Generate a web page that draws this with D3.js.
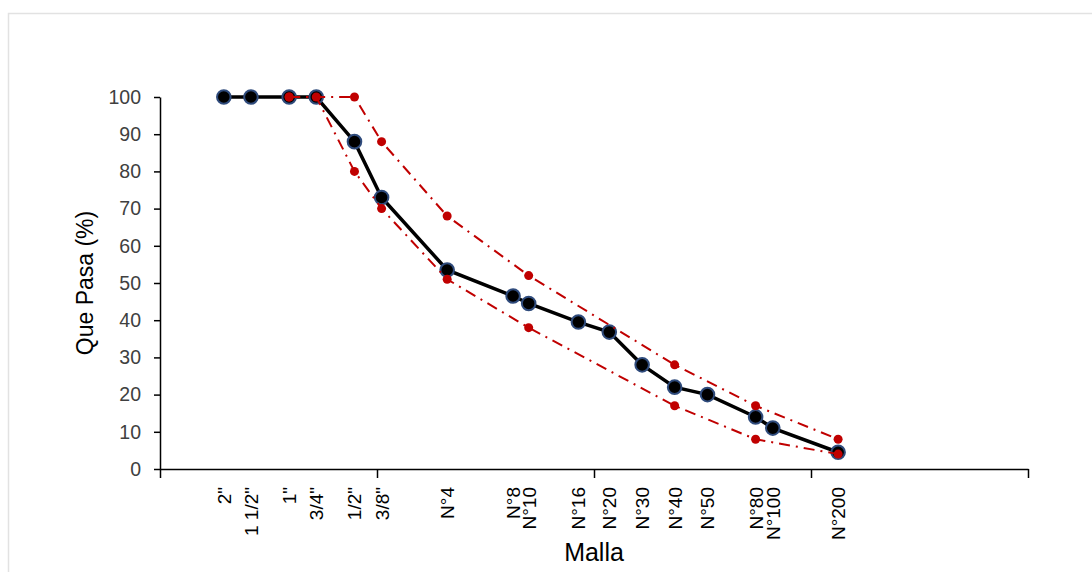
<!DOCTYPE html>
<html>
<head>
<meta charset="utf-8">
<script src="https://cdn.jsdelivr.net/npm/d3@7"></script>
<style>
  body { margin: 0; background: #fff; }
  text { font-family: "Liberation Sans", Arial, sans-serif; }
</style>
</head>
<body>
<div id="chart-area"></div>
<script>
// sieve names and openings (mm)
const sieves = ["2\"", "1 1/2\"", "1\"", "3/4\"", "1/2\"", "3/8\"", "N°4", "N°8", "N°10", "N°16", "N°20", "N°30", "N°40", "N°50", "N°80", "N°100", "N°200"];
const openings = [50.8, 38.1, 25.4, 19.05, 12.7, 9.525, 4.75, 2.36, 2.0, 1.18, 0.85, 0.6, 0.425, 0.3, 0.18, 0.15, 0.075];
const passing = [100, 100, 100, 100, 88, 73, 53.5, 46.5, 44.5, 39.5, 36.8, 28, 22, 20, 14, 11, 4.5];

// spec limits
const upperSieves = ["1\"", "1/2\"", "3/8\"", "N°4", "N°10", "N°40", "N°80", "N°200"];
const upperValues = [100, 100, 88, 68, 52, 28, 17, 8];
const lowerSieves = ["1\"", "3/4\"", "1/2\"", "3/8\"", "N°4", "N°10", "N°40", "N°80", "N°200"];
const lowerValues = [100, 100, 80, 70, 51, 38, 17, 8, 4];

const yTicks = [0, 10, 20, 30, 40, 50, 60, 70, 80, 90, 100];
const xTicks = [100, 10, 1, 0.1, 0.01];

const W = 1092, H = 572;
const margin = {left: 160, right: 64, top: 97, bottom: 103};
const width = W - margin.left - margin.right;
const height = H - margin.top - margin.bottom;

const opening = {};
sieves.forEach((s, i) => opening[s] = openings[i]);

const svg = d3.select("#chart-area")
    .append("svg")
    .attr("width", W)
    .attr("height", H);

svg.append("rect")
    .attr("x", 8.5)
    .attr("y", 13.5)
    .attr("width", W)
    .attr("height", H)
    .attr("fill", "white")
    .attr("stroke", "#e2e2e2")
    .attr("stroke-width", 1.5);

const g = svg.append("g")
    .attr("transform", "translate(" + margin.left + "," + margin.top + ")");

const x = d3.scaleLog()
    .domain([100, 0.01])
    .range([0, width]);

const y = d3.scaleLinear()
    .domain([0, 100])
    .range([height, 0]);

// axes
const bottomAxis = d3.axisBottom(x)
    .tickValues(xTicks)
    .tickFormat("")
    .tickSize(9)
    .tickSizeOuter(0);

g.append("g")
    .attr("class", "axis")
    .attr("transform", "translate(0," + height + ")")
    .call(bottomAxis);

const leftAxis = d3.axisLeft(y)
    .tickValues(yTicks)
    .tickSize(6)
    .tickSizeOuter(0)
    .tickPadding(13);

g.append("g")
    .attr("class", "axis")
    .call(leftAxis);

g.selectAll(".axis path, .axis line")
    .attr("stroke", "black")
    .attr("stroke-width", 1.5);

g.selectAll(".axis text")
    .attr("fill", "#404040")
    .attr("font-size", "19.5px")
    .style("font-family", "'Liberation Sans', Arial, sans-serif");

// sieve labels
g.selectAll(".sieve-label")
    .data(sieves)
    .enter()
    .append("text")
        .attr("class", "sieve-label")
        .attr("transform", (d, i) => "translate(" + (x(openings[i]) + 7) + "," + (height + 18) + ") rotate(-90)")
        .attr("text-anchor", "end")
        .attr("font-size", "19px")
        .attr("fill", "black")
        .text(d => d);

// axis titles
g.append("text")
    .attr("x", x(1))
    .attr("y", height + 92)
    .attr("text-anchor", "middle")
    .attr("font-size", "25px")
    .attr("fill", "black")
    .text("Malla");

g.append("text")
    .attr("x", -(height / 2))
    .attr("y", -67)
    .attr("transform", "rotate(-90)")
    .attr("text-anchor", "middle")
    .attr("font-size", "23px")
    .attr("fill", "black")
    .text("Que Pasa (%)");

// main curve
const line = d3.line()
    .x(d => x(d.o))
    .y(d => y(d.v));

const mainData = sieves.map((s, i) => ({o: openings[i], v: passing[i]}));
const upperData = upperSieves.map((s, i) => ({o: opening[s], v: upperValues[i]}));
const lowerData = lowerSieves.map((s, i) => ({o: opening[s], v: lowerValues[i]}));

g.append("path")
    .datum(mainData)
    .attr("d", line)
    .attr("fill", "none")
    .attr("stroke", "black")
    .attr("stroke-width", 3.5);

g.selectAll(".main-pt")
    .data(mainData)
    .enter()
    .append("circle")
        .attr("class", "main-pt")
        .attr("cx", d => x(d.o))
        .attr("cy", d => y(d.v))
        .attr("r", 6.8)
        .attr("fill", "black")
        .attr("stroke", "#2f4b7c")
        .attr("stroke-width", 2);

// limit curves
[upperData, lowerData].forEach(data => {
    g.append("path")
        .datum(data)
        .attr("d", line)
        .attr("fill", "none")
        .attr("stroke", "#c00000")
        .attr("stroke-width", 2)
        .attr("stroke-dasharray", "11,6,2,6");

    g.append("g")
        .selectAll("circle")
        .data(data)
        .enter()
        .append("circle")
            .attr("cx", d => x(d.o))
            .attr("cy", d => y(d.v))
            .attr("r", 4.5)
            .attr("fill", "#c00000");
});
</script>
</body>
</html>
